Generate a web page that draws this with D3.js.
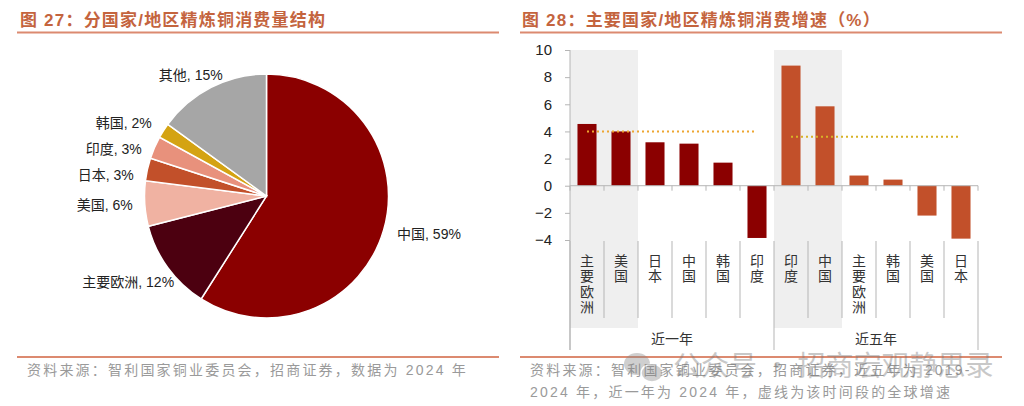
<!DOCTYPE html>
<html>
<head>
<meta charset="utf-8">
<script src="https://cdn.jsdelivr.net/npm/d3@7"></script>
<style>
  body { margin: 0; background: #fff; }
  svg { display: block; font-family: "Liberation Sans", Arial, "Noto Sans CJK SC", sans-serif; }
</style>
</head>
<body>
<div id="chart"></div>
<script>
// ---- data ----
const pieLabels = ["中国", "主要欧洲", "美国", "日本", "印度", "韩国", "其他"];
const pieShares = [59, 12, 6, 3, 3, 2, 15];
const pieColors = ["#8b0000", "#4c0010", "#f0b2a2", "#c2502a", "#e8917c", "#d4a313", "#a6a6a6"];

const periods = ["近一年", "近五年"];
const recentCats = ["主要欧洲", "美国", "日本", "中国", "韩国", "印度"];
const recentGrowth = [4.55, 4.0, 3.2, 3.1, 1.7, -3.85];
const fiveYearCats = ["印度", "中国", "主要欧洲", "韩国", "美国", "日本"];
const fiveYearGrowth = [8.85, 5.85, 0.75, 0.45, -2.2, -3.9];
const globalGrowth = [4.0, 3.6];
const periodColors = ["#8b0000", "#c2502a"];
const shadedPerPeriod = 2;
const yTicks = [-4, -2, 0, 2, 4, 6, 8, 10];

const w = 1024, h = 406;
const titleColor = "#c4643e";
const lineColor = "#dc8a70";
const noteColor = "#9a9a9a";

const svg = d3.select("#chart").append("svg")
    .attr("width", w)
    .attr("height", h)
    .attr("viewBox", [0, 0, w, h]);

// ---- titles and rules ----
const titles = [
    { text: "图 27：分国家/地区精炼铜消费量结构", x: 20, x1: 17, x2: 499 },
    { text: "图 28：主要国家/地区精炼铜消费增速（%）", x: 522, x1: 520, x2: 1002 }
];
titles.forEach(t => {
    svg.append("text")
        .attr("x", t.x).attr("y", 26)
        .attr("fill", titleColor)
        .style("font-size", "17px")
        .style("letter-spacing", "1.2px")
        .style("font-weight", "bold")
        .text(t.text);
    svg.append("line")
        .attr("x1", t.x1).attr("x2", t.x2)
        .attr("y1", 32.5).attr("y2", 32.5)
        .attr("stroke", lineColor).attr("stroke-width", 2);
    svg.append("line")
        .attr("x1", t.x1).attr("x2", t.x2)
        .attr("y1", 357).attr("y2", 357)
        .attr("stroke", lineColor).attr("stroke-width", 2);
});

// ---- pie ----
const cx = 266.5, cy = 196, r = 122;
const pieData = pieLabels.map((d, i) => ({ name: d, value: pieShares[i], color: pieColors[i] }));
const pie = d3.pie().sort(null).value(d => d.value);
const arc = d3.arc().innerRadius(0).outerRadius(r);
const arcs = pie(pieData);

const pieG = svg.append("g").attr("transform", `translate(${cx},${cy})`);
pieG.selectAll("path")
    .data(arcs)
    .join("path")
    .attr("d", arc)
    .attr("fill", d => d.data.color)
    .attr("stroke", "#fff")
    .attr("stroke-width", 1.5);

// labels: place outside, then push left-side labels apart
const labelArc = d3.arc().innerRadius(136).outerRadius(136);
const labels = arcs.map(d => {
    let [x, y] = labelArc.centroid(d);
    const mid = (d.startAngle + d.endAngle) / 2;
    const s = Math.sin(mid), c = Math.cos(mid);
    const anchor = Math.abs(s) < 0.5 ? "middle" : (s > 0 ? "start" : "end");
    if (anchor === "end") {
        x += 30 * Math.max(0, -c);
        y += 10 * Math.max(0, -c);
    }
    if (anchor === "middle") x -= 14;
    return { text: `${d.data.name}, ${d.data.value}%`, x, y, anchor };
});
const left = labels.filter(l => l.anchor === "end").sort((a, b) => a.y - b.y);
for (let i = 1; i < left.length; i++) {
    if (left[i].y - left[i - 1].y < 26) left[i].y = left[i - 1].y + 26;
}

pieG.selectAll("text.plabel")
    .data(labels)
    .join("text")
    .attr("class", "plabel")
    .attr("x", d => d.x)
    .attr("y", d => d.y)
    .attr("dy", "0.35em")
    .attr("text-anchor", d => d.anchor)
    .attr("fill", "#222")
    .style("font-size", "14px")
    .text(d => d.text);

// ---- bar chart ----
const bars = [];
[recentCats, fiveYearCats].forEach((cats, p) => {
    const vals = p === 0 ? recentGrowth : fiveYearGrowth;
    cats.forEach((c, i) => bars.push({ key: p + "-" + c, name: c, value: vals[i], period: p, idx: i }));
});

const x = d3.scaleBand()
    .domain(bars.map(d => d.key))
    .range([570, 978])
    .paddingInner(0)
    .paddingOuter(0);
const y = d3.scaleLinear().domain([-4, 10]).range([240, 50]);
const bw = x.bandwidth();
const barW = bw * 0.56;

// shaded bands
const bandBottom = 328;
periods.forEach((p, pi) => {
    const pb = bars.filter(d => d.period === pi);
    const first = pb[0];
    const lastShaded = pb[shadedPerPeriod - 1];
    svg.append("rect")
        .attr("x", x(first.key))
        .attr("y", y(10))
        .attr("width", x(lastShaded.key) + bw - x(first.key))
        .attr("height", bandBottom - y(10))
        .attr("fill", "#efefef");
});

// y axis
const yAxis = svg.append("g")
    .attr("transform", "translate(570,0)")
    .call(d3.axisLeft(y).tickValues(yTicks).tickSize(5).tickPadding(13).tickFormat(d3.format("d")));
yAxis.select(".domain").remove();
yAxis.selectAll(".tick line").attr("stroke", "#b5b5b5");
yAxis.selectAll(".tick text")
    .attr("fill", "#222")
    .style("font-size", "15px")
    .style("font-family", "'Liberation Sans', Arial, sans-serif");

// bars
svg.append("g")
    .selectAll("rect")
    .data(bars)
    .join("rect")
    .attr("x", d => x(d.key) + (bw - barW) / 2)
    .attr("y", d => y(Math.max(0, d.value)))
    .attr("width", barW)
    .attr("height", d => Math.abs(y(d.value) - y(0)))
    .attr("fill", d => periodColors[d.period]);

// axis lines
const axisStroke = "#b5b5b5";
svg.append("line")
    .attr("x1", 570).attr("x2", 570)
    .attr("y1", y(10)).attr("y2", 350)
    .attr("stroke", axisStroke);
svg.append("line")
    .attr("x1", 570).attr("x2", 978)
    .attr("y1", y(0)).attr("y2", y(0))
    .attr("stroke", axisStroke);

// category boundaries
const bounds = bars.map(d => x(d.key)).concat([x(bars[bars.length - 1].key) + bw]);
bounds.forEach((bx, i) => {
    svg.append("line")
        .attr("x1", bx).attr("x2", bx)
        .attr("y1", y(0)).attr("y2", y(0) + 5)
        .attr("stroke", axisStroke);
    const isGroup = i % recentCats.length === 0;
    svg.append("line")
        .attr("x1", bx).attr("x2", bx)
        .attr("y1", y(-4) + 1).attr("y2", isGroup ? 350 : 318)
        .attr("stroke", axisStroke);
});

// global growth dotted lines
const goldColors = ["#eea630", "#d8b326"];
periods.forEach((p, pi) => {
    const pb = bars.filter(d => d.period === pi);
    svg.append("line")
        .attr("x1", x(pb[0].key) + bw / 2)
        .attr("x2", x(pb[pb.length - 1].key) + bw / 2)
        .attr("y1", y(globalGrowth[pi]))
        .attr("y2", y(globalGrowth[pi]))
        .attr("stroke", goldColors[pi])
        .attr("stroke-width", 2)
        .attr("stroke-dasharray", "2,3");
});

// vertical category labels (one text per category, one tspan per character)
svg.append("g")
    .selectAll("text")
    .data(bars)
    .join("text")
    .attr("text-anchor", "middle")
    .attr("fill", "#333")
    .style("font-size", "14px")
    .style("font-family", "'Noto Sans CJK SC', sans-serif")
    .each(function (d) {
        const t = d3.select(this);
        Array.from(d.name).forEach((ch, ci) => {
            t.append("tspan")
                .attr("x", x(d.key) + bw / 2)
                .attr("y", 261 + ci * 15.5)
                .attr("dy", "0.35em")
                .text(ch);
        });
    });

// period labels
periods.forEach((p, pi) => {
    const pb = bars.filter(d => d.period === pi);
    const mid = (x(pb[0].key) + x(pb[pb.length - 1].key) + bw) / 2;
    svg.append("text")
        .attr("x", mid)
        .attr("y", 339)
        .attr("dy", "0.35em")
        .attr("text-anchor", "middle")
        .attr("fill", "#333")
        .style("font-size", "14px")
        .text(p);
});

// ---- footnotes ----
const notes = [
    { x: 27, y: 375, text: "资料来源：智利国家铜业委员会，招商证券，数据为 2024 年" },
    { x: 530, y: 375, text: "资料来源：智利国家铜业委员会，招商证券，近五年为 2019-" },
    { x: 530, y: 397, text: "2024 年，近一年为 2024 年，虚线为该时间段的全球增速" }
];
svg.selectAll("text.note")
    .data(notes)
    .join("text")
    .attr("class", "note")
    .attr("x", d => d.x)
    .attr("y", d => d.y)
    .attr("fill", noteColor)
    .style("font-size", "14px")
    .style("letter-spacing", "2.2px")
    .text(d => d.text);

// ---- watermark ----
const wm = svg.append("g").attr("opacity", 0.4);
wm.append("ellipse").attr("cx", 637).attr("cy", 364).attr("rx", 13).attr("ry", 11).attr("fill", "#888");
wm.append("ellipse").attr("cx", 652).attr("cy", 373).attr("rx", 11).attr("ry", 9).attr("fill", "#888").attr("stroke", "#fff").attr("stroke-width", 1.5);
wm.append("text")
    .attr("x", 673).attr("y", 376)
    .attr("fill", "#777")
    .style("font-size", "28px")
    .style("font-family", "'Noto Sans CJK SC', sans-serif")
    .text("公众号 · 招商宏观静思录");
</script>
</body>
</html>
